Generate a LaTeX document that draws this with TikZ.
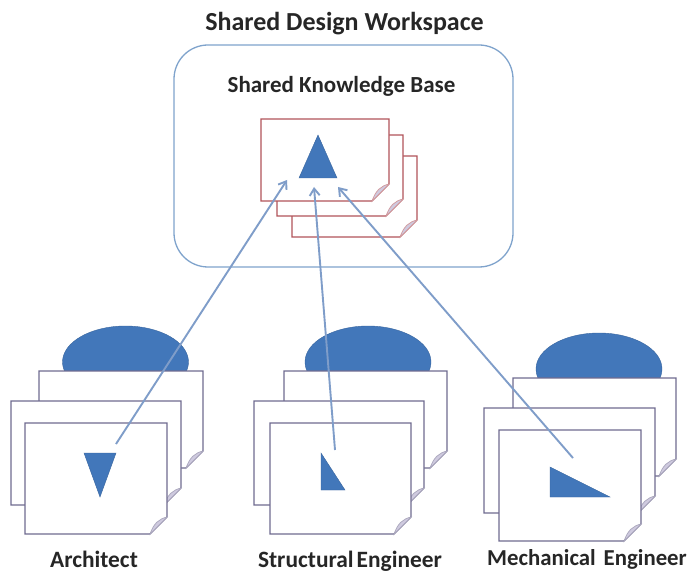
\documentclass[tikz,border=0pt]{standalone}
\usepackage{fontspec}
\usepackage{tikz}
\usepackage{xcolor}
\usetikzlibrary{arrows.meta, shapes.geometric}
\setmainfont{Carlito}

\definecolor{shapeblue}{HTML}{4277BA}
\definecolor{sheetline}{HTML}{6F6B90}
\definecolor{sheetred}{HTML}{B2545A}
\definecolor{flapfill}{HTML}{CFCADF}
\definecolor{linkblue}{HTML}{7F9DC9}
\definecolor{roundline}{HTML}{7FA3CC}

\tikzset{
    sheetbox/.style={rectangle, inner sep=0pt, outer sep=0pt},
    blob/.style={ellipse, fill=shapeblue, draw=shapeblue!85!black, inner sep=0pt, minimum width=126pt, minimum height=72pt},
    wedge/.style={fill=shapeblue, draw=shapeblue!85!black, line width=0.4pt},
    link/.style={-{Straight Barb[length=7pt, width=10pt]}, draw=linkblue, line width=1.9pt},
    caption/.style={font=\bfseries\fontsize{23.4}{26}\selectfont, text=black!85, inner sep=0pt, anchor=base}
}

% name, centre, width, height, line colour
\newcommand{\sheet}[5]{
    \node[sheetbox, minimum width=#3pt, minimum height=#4pt] (#1) at (#2) {};
    \draw[#5, line width=1.3pt, fill=white] (#1.north west) -- (#1.north east)
        -- ([yshift=17pt]#1.south east) -- ([xshift=-17pt]#1.south east)
        -- (#1.south west) -- cycle;
    \draw[#5!60, line width=0.7pt, fill=flapfill] ([yshift=17pt]#1.south east)
        .. controls ([xshift=-8pt, yshift=15pt]#1.south east) and ([xshift=-13pt, yshift=11pt]#1.south east)
        .. ([xshift=-17pt]#1.south east) -- cycle;
}

\begin{document}
\begin{tikzpicture}[x=1pt, y=-1pt]
    \useasboundingbox (0,0) rectangle (691,572);

    % Workspace
    \node[caption, font=\bfseries\fontsize{26}{28}\selectfont] (title) at (344.5,31) {Shared Design Workspace};
    \node[rectangle, draw=roundline, line width=1.3pt, fill=white, rounded corners=34pt, minimum width=339pt, minimum height=222pt] (workspace) at (343.5,156) {};
    \node[caption, font=\bfseries\fontsize{23}{26}\selectfont] (base) at (341.5,93) {Shared Knowledge Base};

    % Shared sheets
    \sheet{baseback}{354.5,196.5}{125}{81}{sheetred}
    \sheet{basemid}{340,175.5}{126}{81}{sheetred}
    \sheet{basefront}{325,160}{128}{82}{sheetred}
    \draw[wedge] (318,135) -- (337,178) -- (299,178) -- cycle;

    % Architect
    \node[blob] (archblob) at (125.5,362) {};
    \sheet{archback}{121,419.5}{164}{97}{sheetline}
    \sheet{archmid}{96,453}{170}{104}{sheetline}
    \sheet{archfront}{96,478.5}{142}{111}{sheetline}
    \draw[wedge] (84,453) -- (116,453) -- (100,497) -- cycle;
    \node[caption] (arch) at (94,567) {Architect};

    % Structural engineer
    \node[blob] (structblob) at (368,362) {};
    \sheet{structback}{365.5,419.5}{163}{97}{sheetline}
    \sheet{structmid}{339,453}{170}{104}{sheetline}
    \sheet{structfront}{340.5,478.5}{141}{111}{sheetline}
    \draw[wedge] (321,453) -- (345,490) -- (321,490) -- cycle;
    \node[caption] (struct) at (350,567) {Structural\hspace{0.13em}Engineer};

    % Mechanical engineer
    \node[blob] (mechblob) at (599,369) {};
    \sheet{mechback}{594.5,427}{163}{98}{sheetline}
    \sheet{mechmid}{569.5,460.5}{171}{105}{sheetline}
    \sheet{mechfront}{570,485.5}{142}{111}{sheetline}
    \draw[wedge] (550,467) -- (610,497) -- (550,497) -- cycle;
    \node[caption, font=\bfseries\fontsize{22.8}{26}\selectfont] (mech) at (587,565) {Mechanical\hspace{0.35em}Engineer};

    % Links
    \coordinate (archstart) at (116,444);
    \coordinate (archend) at (287,180);
    \coordinate (structstart) at (335,450);
    \coordinate (structend) at (314,187);
    \coordinate (mechstart) at (573,458);
    \coordinate (mechend) at (338,187);
    \draw[link] (archstart) -- (archend);
    \draw[link] (structstart) -- (structend);
    \draw[link] (mechstart) -- (mechend);
\end{tikzpicture}
\end{document}
